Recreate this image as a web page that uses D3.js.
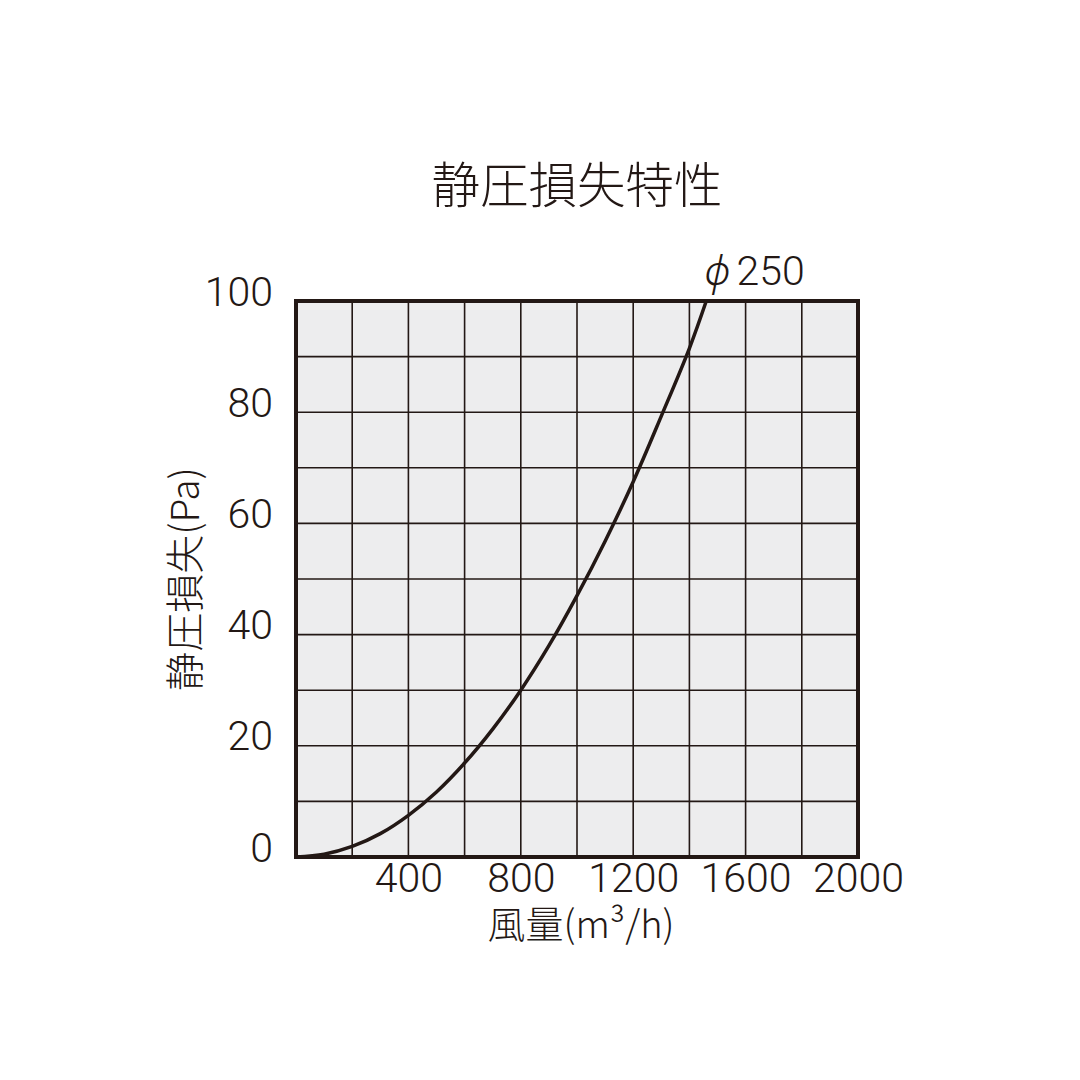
<!DOCTYPE html>
<html>
<head>
<meta charset="utf-8">
<script src="https://cdn.jsdelivr.net/npm/d3@7"></script>
<style>
  html, body { margin: 0; padding: 0; background: #fff; }
  svg text { font-family: "Noto Sans CJK JP", "Noto Sans", sans-serif; fill: #231815; }
</style>
</head>
<body>
<div id="chart"></div>
<script>
// Data
var flowValues = [0, 100, 200, 300, 400, 500, 600, 700, 800, 900, 1000, 1100, 1200, 1300, 1400, 1460];
var pressureValues = [0, 0.5, 1.9, 4.2, 7.5, 11.7, 16.9, 23, 30, 38, 47, 56.8, 67.5, 79.3, 91.5, 100];
var xTickLabels = [400, 800, 1200, 1600, 2000];
var yTickLabels = [0, 20, 40, 60, 80, 100];
var xGrid = [200, 400, 600, 800, 1000, 1200, 1400, 1600, 1800];
var yGrid = [10, 20, 30, 40, 50, 60, 70, 80, 90];
var seriesSymbol = "ϕ";
var seriesName = "250";

function init() {
    var w = 1080, h = 1080;
    var ink = "#231815";
    var numFont = "Roboto, 'Noto Sans', sans-serif";

    var svg = d3.select("#chart").append("svg")
                .attr("width", w)
                .attr("height", h);

    // plot area
    var left = 296, right = 858, top = 301, bottom = 857;

    var x = d3.scaleLinear().domain([0, 2000]).range([left, right]);
    var y = d3.scaleLinear().domain([0, 100]).range([bottom, top]);

    // background
    svg.append("rect")
       .attr("x", left).attr("y", top)
       .attr("width", right - left).attr("height", bottom - top)
       .attr("fill", "#ededee");

    // grid
    svg.append("g").selectAll("line")
       .data(xGrid).enter().append("line")
       .attr("x1", d => x(d)).attr("x2", d => x(d))
       .attr("y1", top).attr("y2", bottom)
       .attr("stroke", ink).attr("stroke-width", 1.6);

    svg.append("g").selectAll("line")
       .data(yGrid).enter().append("line")
       .attr("x1", left).attr("x2", right)
       .attr("y1", d => y(d)).attr("y2", d => y(d))
       .attr("stroke", ink).attr("stroke-width", 1.6);

    // curve
    var line = d3.line()
                 .x((d, i) => x(flowValues[i]))
                 .y(d => y(d))
                 .curve(d3.curveCatmullRom.alpha(0.5));

    svg.append("path")
       .datum(pressureValues)
       .attr("d", line)
       .attr("fill", "none")
       .attr("stroke", ink)
       .attr("stroke-width", 3.5);

    // frame
    svg.append("rect")
       .attr("x", left).attr("y", top)
       .attr("width", right - left).attr("height", bottom - top)
       .attr("fill", "none")
       .attr("stroke", ink)
       .attr("stroke-width", 4);

    // axes (labels only)
    var yAxis = d3.axisLeft(y).tickValues(yTickLabels).tickSize(0).tickPadding(23)
                  .tickFormat(d3.format("d"));
    var gy = svg.append("g").attr("transform", "translate(" + left + ",-9)").call(yAxis);
    gy.select(".domain").remove();
    gy.selectAll("text")
      .attr("font-size", 41).attr("font-weight", 300)
      .style("font-family", numFont)
      .attr("fill", ink);

    var xAxis = d3.axisBottom(x).tickValues(xTickLabels).tickSize(0).tickPadding(6)
                  .tickFormat(d3.format("d"));
    var gx = svg.append("g").attr("transform", "translate(0," + bottom + ")").call(xAxis);
    gx.select(".domain").remove();
    gx.selectAll("text")
      .attr("font-size", 41).attr("font-weight", 300)
      .style("font-family", numFont)
      .attr("fill", ink);

    // title
    svg.append("text")
       .attr("x", (left + right) / 2).attr("y", 203)
       .attr("text-anchor", "middle")
       .attr("font-size", 48.5).attr("font-weight", 300)
       .text("静圧損失特性");

    // axis titles
    svg.append("text")
       .attr("x", 581).attr("y", 938)
       .attr("text-anchor", "middle")
       .attr("font-size", 38).attr("font-weight", 300)
       .text("風量(m³/h)");

    svg.append("text")
       .attr("transform", "translate(199," + ((top + bottom) / 2) + ") rotate(-90)")
       .attr("text-anchor", "middle")
       .attr("font-size", 39).attr("font-weight", 300)
       .text("静圧損失(Pa)");

    // series label
    var lbl = svg.append("text")
       .attr("x", x(flowValues[flowValues.length - 1]) - 2).attr("y", 285)
       .attr("font-size", 41).attr("font-weight", 300)
       .style("font-family", numFont);
    lbl.append("tspan").attr("font-style", "italic").text(seriesSymbol);
    lbl.append("tspan").attr("dx", 6).text(seriesName);
}

window.onload = init;
</script>
</body>
</html>
